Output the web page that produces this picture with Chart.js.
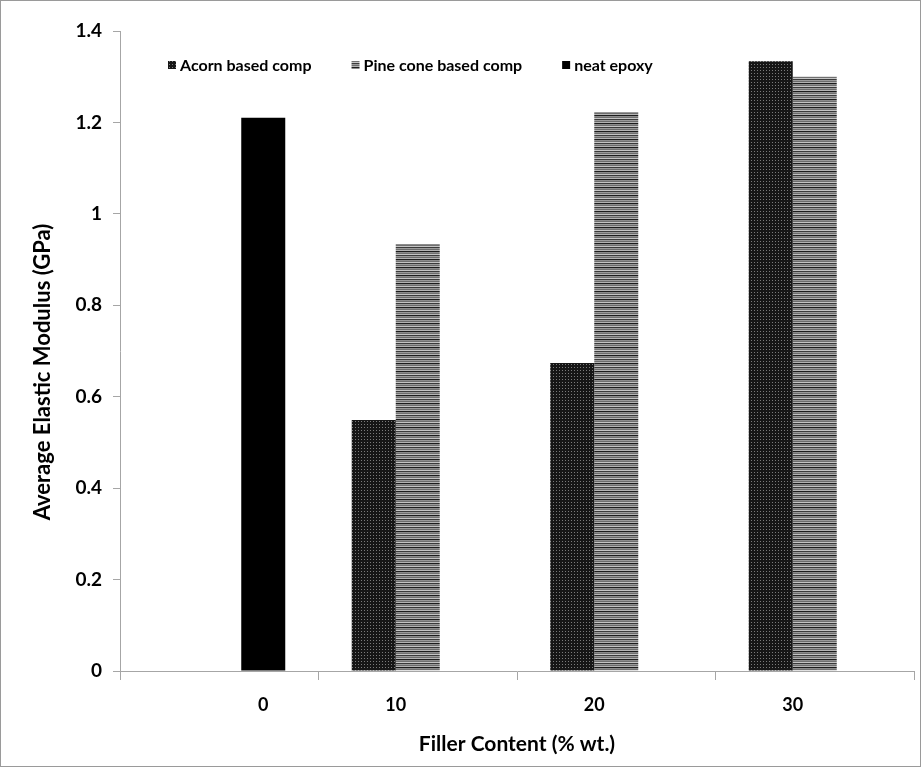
<!DOCTYPE html>
<html>
<head>
<meta charset="utf-8">
<script src="https://cdn.jsdelivr.net/npm/chart.js@4.4.1/dist/chart.umd.min.js"></script>
<style>
  html, body { margin: 0; padding: 0; background: #fff; }
  #wrap { width: 921px; height: 767px; }
</style>
</head>
<body>
<div id="wrap"><canvas id="modulusChart" width="921" height="767"></canvas></div>
<script>
// Filler content categories (% wt.)
const fillerContent = ['0', '10', '20', '30'];
// Average elastic modulus in GPa
const acornComp = [null, 0.549, 0.674, 1.334];
const pineConeComp = [null, 0.934, 1.223, 1.300];
const neatEpoxy = [1.21, null, null, null];
const yTicks = [0, 0.2, 0.4, 0.6, 0.8, 1, 1.2, 1.4];

const canvas = document.getElementById('modulusChart');
const ctx = canvas.getContext('2d');

// small tiles used as bar fills (dotted and striped like the print)
function makePattern(w, h, paint) {
    const tile = document.createElement('canvas');
    tile.width = w;
    tile.height = h;
    paint(tile.getContext('2d'));
    return ctx.createPattern(tile, 'repeat');
}

const dottedFill = makePattern(3, 3, g => {
    g.fillStyle = '#161616';
    g.fillRect(0, 0, 3, 3);
    g.fillStyle = '#7a7a7a';
    g.fillRect(1, 1, 1, 1);
});

const stripeRows = ['#9a9a9a', '#6c6c6c', '#b4b4b4', '#1c1c1c', '#8c8c8c', '#707070', '#c4c4c4', '#3a3a3a'];
const stripedFill = makePattern(1, stripeRows.length, g => {
    stripeRows.forEach((c, i) => {
        g.fillStyle = c;
        g.fillRect(0, i, 1, 1);
    });
});

const font = 'Lato';

// white page with a thin frame
const framePlugin = {
    id: 'frame',
    beforeDraw(chart) {
        const c = chart.ctx;
        c.save();
        c.fillStyle = '#fff';
        c.fillRect(0, 0, chart.width, chart.height);
        c.strokeStyle = '#9a9a9a';
        c.lineWidth = 1;
        c.strokeRect(0.5, 0.5, chart.width - 1, chart.height - 1);
        c.restore();
    }
};

// legend sits inside the plot, like the Excel original
const insideLegend = {
    id: 'insideLegend',
    afterDraw(chart) {
        const c = chart.ctx;
        c.save();
        c.font = 'bold 16px ' + font;
        c.textBaseline = 'middle';
        c.textAlign = 'left';
        let x = 168;
        const y = 65;
        chart.data.datasets.forEach(ds => {
            c.fillStyle = ds.backgroundColor;
            c.fillRect(x, y - 4, 8, 8);
            c.fillStyle = '#000';
            c.fillText(ds.label, x + 12, y + 1);
            x += 12 + c.measureText(ds.label).width + 40;
        });
        c.restore();
    }
};

// category labels are centred under the bars that have data,
// and the y title sits a little below the middle of the axis
const axisText = {
    id: 'axisText',
    afterDraw(chart) {
        const c = chart.ctx;
        c.save();
        c.font = 'bold 18px ' + font;
        c.fillStyle = '#000';
        c.textAlign = 'center';
        c.textBaseline = 'middle';
        fillerContent.forEach((lab, j) => {
            const xs = [];
            chart.data.datasets.forEach((ds, i) => {
                if (ds.data[j] !== null) xs.push(chart.getDatasetMeta(i).data[j].x);
            });
            const cx = xs.reduce((a, b) => a + b, 0) / xs.length;
            c.fillText(lab, cx, 705);
        });

        c.translate(43, 372);
        c.rotate(-Math.PI / 2);
        c.font = 'bold 22px ' + font;
        c.fillText('Average Elastic Modulus (GPa)', 0, 0);
        c.restore();
    }
};

new Chart(ctx, {
    type: 'bar',
    data: {
        labels: fillerContent,
        datasets: [
            { label: 'Acorn based comp', data: acornComp, backgroundColor: dottedFill },
            { label: 'Pine cone based comp', data: pineConeComp, backgroundColor: stripedFill },
            { label: 'neat epoxy', data: neatEpoxy, backgroundColor: '#000' }
        ]
    },
    options: {
        responsive: false,
        animation: false,
        devicePixelRatio: 1,
        layout: { padding: { top: 31, right: 7, bottom: 0, left: 0 } },
        datasets: {
            bar: { categoryPercentage: 0.665, barPercentage: 1.0, borderWidth: 0 }
        },
        plugins: {
            legend: { display: false },
            tooltip: { enabled: false }
        },
        scales: {
            x: {
                grid: { drawOnChartArea: false, tickLength: 9, color: '#a6a6a6', offset: true },
                border: { color: '#a6a6a6' },
                ticks: { display: false },
                title: {
                    display: true,
                    text: 'Filler Content (% wt.)',
                    color: '#000',
                    font: { family: font, size: 21, weight: 'bold' },
                    padding: { top: 0, bottom: 10 }
                },
                afterFit: s => { s.height = 96; }
            },
            y: {
                min: 0,
                max: 1.4,
                afterBuildTicks: s => { s.ticks = yTicks.map(v => ({ value: v })); },
                grid: { drawOnChartArea: false, tickLength: 7, color: '#a6a6a6' },
                border: { color: '#a6a6a6' },
                ticks: {
                    padding: 11,
                    color: '#000',
                    font: { family: font, size: 19, weight: 'bold' },
                    callback: v => String(v)
                },
                afterFit: s => { s.width = 120; }
            }
        }
    },
    plugins: [framePlugin, insideLegend, axisText]
});
</script>
</body>
</html>
